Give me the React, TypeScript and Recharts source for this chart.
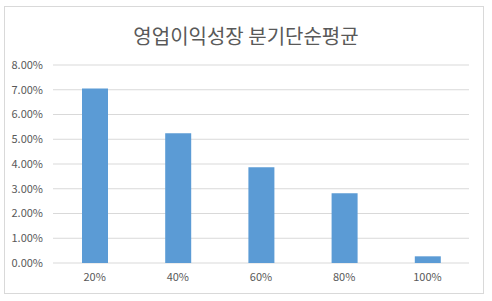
import { BarChart, Bar, XAxis, YAxis, CartesianGrid } from 'recharts'

const categories = ['20%', '40%', '60%', '80%', '100%']
const values = [0.0705, 0.0524, 0.0387, 0.0282, 0.0027]
const yTicks = [0, 0.01, 0.02, 0.03, 0.04, 0.05, 0.06, 0.07, 0.08]
const title = '영업이익성장 분기단순평균'

const data = categories.map((c, i) => ({ name: c, value: values[i] }))

const font = '"Noto Sans CJK KR", "Noto Sans", sans-serif'

export default function App() {
  return (
    <div style={{ position: 'absolute', left: 0, top: 0, width: 492, height: 301, background: '#fff', fontFamily: font }}>
      <div
        style={{
          position: 'absolute',
          left: 4,
          top: 6,
          width: 478,
          height: 286,
          border: '1px solid #d9d9d9',
        }}
      />
      <div
        style={{
          position: 'absolute',
          left: 0,
          top: 22,
          width: 492,
          textAlign: 'center',
          fontSize: 20,
          color: '#595959',
          lineHeight: '28px',
        }}
      >
        {title}
      </div>
      <div style={{ position: 'absolute', left: 0, top: 0 }}>
        <BarChart width={492} height={301} data={data} margin={{ top: 65, right: 23, bottom: 8, left: 0 }}>
          <CartesianGrid vertical={false} stroke="#d9d9d9" />
          <XAxis
            dataKey="name"
            axisLine={false}
            tickLine={false}
            tickSize={0}
            tickMargin={10}
            height={30}
            tick={{ fontSize: 11, fill: '#595959', fontFamily: font }}
          />
          <YAxis
            width={53}
            domain={[0, 0.08]}
            ticks={yTicks}
            axisLine={false}
            tickLine={false}
            tickSize={0}
            tickMargin={10}
            tickFormatter={(v: number) => (v * 100).toFixed(2) + '%'}
            tick={{ fontSize: 11, fill: '#595959', fontFamily: font }}
          />
          <Bar dataKey="value" fill="#5b9bd5" barSize={26} isAnimationActive={false} />
        </BarChart>
      </div>
    </div>
  )
}
